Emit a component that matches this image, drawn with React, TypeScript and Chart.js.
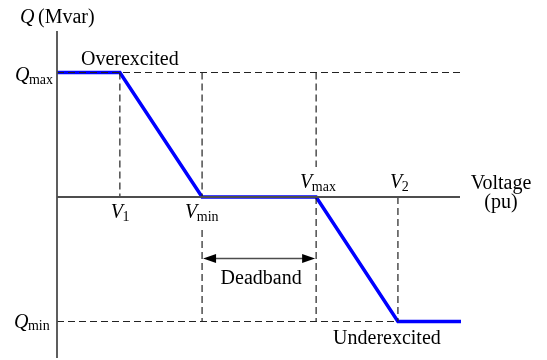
import React, { useEffect, useRef } from "react";
import { Chart, registerables } from "chart.js";

Chart.register(...registerables);

// Q–V droop characteristic (voltage in relative units, Q in per-unit of Qmax)
const droopVoltage = [0, 15.6, 36, 64.3, 84.6, 100.25];
const droopQ = [1, 1, 0, 0, -1, -1];

// Breakpoints named on the voltage axis
const V1 = droopVoltage[1];
const V_MIN = droopVoltage[2];
const V_MAX = droopVoltage[3];
const V2 = droopVoltage[4];
const Q_MAX = droopQ[0];
const Q_MIN = droopQ[5];

// Axis extents
const axisVoltageEnd = [100];
const axisQRange = [1.333, -1.293];

// Where guide lines break around the V labels
const vMaxGuideStop = 0.24;
const vMinGuideResume = -0.265;

const SERIF = "'Liberation Serif', 'Times New Roman', serif";
const AXIS_COLOR = "#4d4d4d";
const DASH_COLOR = "#222222";

const pts = (xs: number[], ys: number[]) => xs.map((x, i) => ({ x, y: ys[i] }));

function drawSubscripted(
  ctx: CanvasRenderingContext2D,
  main: string,
  sub: string,
  x: number,
  y: number
) {
  ctx.font = `italic 20px ${SERIF}`;
  ctx.textAlign = "left";
  ctx.textBaseline = "alphabetic";
  ctx.fillText(main, x, y);
  const w = ctx.measureText(main).width;
  ctx.font = `14px ${SERIF}`;
  ctx.fillText(sub, x + w - 0.5, y + 2.5);
}

const annotations = {
  id: "qvAnnotations",
  afterDatasetsDraw(chart: Chart) {
    const ctx = chart.ctx;
    const xs = chart.scales.x;
    const ys = chart.scales.y;
    const px = (v: number) => xs.getPixelForValue(v);
    const py = (q: number) => ys.getPixelForValue(q);
    ctx.save();
    ctx.fillStyle = "#000";

    // Axis title for Q
    ctx.font = `italic 20px ${SERIF}`;
    ctx.textAlign = "left";
    ctx.textBaseline = "alphabetic";
    ctx.fillText("Q", px(0) - 37, 23);
    ctx.font = `20px ${SERIF}`;
    ctx.fillText("(Mvar)", px(0) - 19, 23);

    // Voltage axis title
    ctx.textAlign = "center";
    ctx.fillText("Voltage", px(axisVoltageEnd[0]) + 41, py(0) - 8);
    ctx.fillText("(pu)", px(axisVoltageEnd[0]) + 41, py(0) + 11);

    // Region labels
    ctx.fillText("Overexcited", px(V1) + 10, py(Q_MAX) - 7);
    ctx.fillText("Underexcited", px(V2) - 11, py(Q_MIN) + 22);
    ctx.fillText("Deadband", (px(V_MIN) + px(V_MAX)) / 2 + 2, py(0) + 87);

    // Q tick labels
    drawSubscripted(ctx, "Q", "max", px(0) - 42, py(Q_MAX) + 9);
    drawSubscripted(ctx, "Q", "min", px(0) - 43, py(Q_MIN) + 6);

    // Voltage tick labels
    drawSubscripted(ctx, "V", "1", px(V1) - 9, py(0) + 21);
    drawSubscripted(ctx, "V", "min", px(V_MIN) - 17, py(0) + 21);
    drawSubscripted(ctx, "V", "max", px(V_MAX) - 16, py(0) - 9);
    drawSubscripted(ctx, "V", "2", px(V2) - 8, py(0) - 9);

    // Deadband double arrow
    const ay = py(0) + 61.5;
    const x0 = px(V_MIN);
    const x1 = px(V_MAX);
    ctx.strokeStyle = AXIS_COLOR;
    ctx.lineWidth = 1.5;
    ctx.beginPath();
    ctx.moveTo(x0 + 8, ay);
    ctx.lineTo(x1 - 8, ay);
    ctx.stroke();
    ctx.fillStyle = "#000";
    ctx.beginPath();
    ctx.moveTo(x0 + 1, ay);
    ctx.lineTo(x0 + 14, ay - 4.5);
    ctx.lineTo(x0 + 14, ay + 4.5);
    ctx.closePath();
    ctx.fill();
    ctx.beginPath();
    ctx.moveTo(x1 - 1, ay);
    ctx.lineTo(x1 - 14, ay - 4.5);
    ctx.lineTo(x1 - 14, ay + 4.5);
    ctx.closePath();
    ctx.fill();

    ctx.restore();
  },
};

const whiteBackground = {
  id: "whiteBackground",
  beforeDraw(chart: Chart) {
    const ctx = chart.ctx;
    ctx.save();
    ctx.fillStyle = "#fff";
    ctx.fillRect(0, 0, chart.width, chart.height);
    ctx.restore();
  },
};

export default function App() {
  const canvasRef = useRef<HTMLCanvasElement | null>(null);

  useEffect(() => {
    if (!canvasRef.current) return;

    const dashed = (data: { x: number; y: number }[]) => ({
      data,
      borderColor: DASH_COLOR,
      borderWidth: 1.2,
      borderDash: [7, 4],
      pointRadius: 0,
      showLine: true,
      fill: false,
      tension: 0,
    });

    const chart = new Chart(canvasRef.current, {
      type: "scatter",
      data: {
        datasets: [
          // Axes
          {
            data: pts([0, 0], axisQRange),
            borderColor: AXIS_COLOR,
            borderWidth: 1.8,
            pointRadius: 0,
            showLine: true,
          },
          {
            data: pts([0, axisVoltageEnd[0]], [0, 0]),
            borderColor: AXIS_COLOR,
            borderWidth: 1.8,
            pointRadius: 0,
            showLine: true,
          },
          // Guide lines
          dashed(pts([0, axisVoltageEnd[0]], [Q_MAX, Q_MAX])),
          dashed(pts([0, V2], [Q_MIN, Q_MIN])),
          dashed(pts([V1, V1], [Q_MAX, 0])),
          dashed(pts([V_MIN, V_MIN], [Q_MAX, 0])),
          dashed(pts([V_MIN, V_MIN], [vMinGuideResume, Q_MIN])),
          dashed(pts([V_MAX, V_MAX], [Q_MAX, vMaxGuideStop])),
          dashed(pts([V_MAX, V_MAX], [0, Q_MIN])),
          dashed(pts([V2, V2], [0, Q_MIN])),
          // Droop characteristic
          {
            data: pts(droopVoltage, droopQ),
            borderColor: "#0000ff",
            borderWidth: 3.5,
            pointRadius: 0,
            showLine: true,
            tension: 0,
            borderJoinStyle: "miter" as const,
          },
        ],
      },
      options: {
        animation: false,
        responsive: false,
        events: [],
        layout: { padding: 0 },
        plugins: {
          legend: { display: false },
          tooltip: { enabled: false },
        },
        scales: {
          x: { type: "linear", display: false, min: -14.144, max: 121.59 },
          y: { type: "linear", display: false, min: -1.3092, max: 1.5823 },
        },
      },
      plugins: [whiteBackground, annotations],
    });

    return () => chart.destroy();
  }, []);

  return (
    <div style={{ position: "fixed", left: 0, top: 0, width: 547, height: 360, background: "#fff" }}>
      <canvas ref={canvasRef} width={547} height={360} style={{ display: "block" }} />
    </div>
  );
}
